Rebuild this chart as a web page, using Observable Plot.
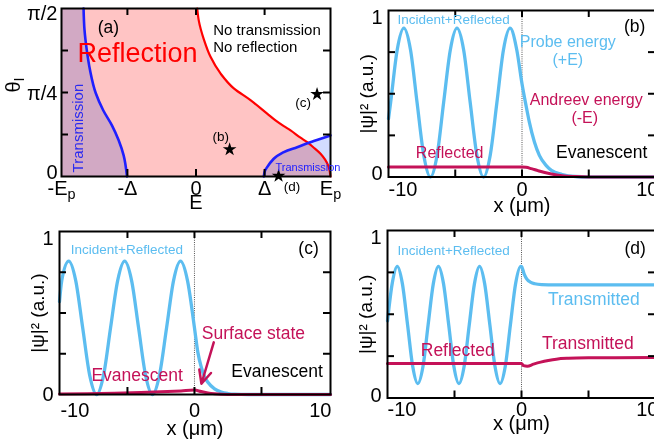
<!DOCTYPE html>
<html><head><meta charset="utf-8">
<script src="https://cdn.jsdelivr.net/npm/d3@7"></script>
<script src="https://cdn.jsdelivr.net/npm/@observablehq/plot@0.6"></script>
<style>
html,body{margin:0;padding:0;background:#fff;}
#fig{position:relative;width:654px;height:445px;overflow:hidden;background:#fff;}
#fig > div{position:absolute;}
#fig svg{overflow:visible;display:block;max-width:none !important;}
</style></head><body><div id="fig"></div>
<script>
// ---------- Panel (a): phase diagram ----------
const DELTA = 0.51;
const aXTicks = [-1, -DELTA, 0, DELTA, 1];
const aXTickLabels = ["-E_p", "-Δ", "0", "Δ", "E_p"];
const aYTicks = [0, 45, 90];
const aYTickLabels = ["0", "π/4", "π/2"];
const aMinorX = [-DELTA, 0, DELTA];
const aMinorY = [22.5, 45, 67.5];
// [E/Ep, theta in degrees]
const aBlueLeft = [[-0.513,0],[-0.538,11.3],[-0.575,19.4],[-0.625,27.4],[-0.690,35.5],[-0.745,44.6],[-0.788,57],[-0.812,67.7],[-0.829,78.5],[-0.836,90]];
const aRed = [[1.0,0],[0.985,5.5],[0.96,9.0],[0.926,12.2],[0.87,15.8],[0.827,18.4],[0.777,20.8],[0.703,24.7],[0.653,27.0],[0.591,30.1],[0.529,33.7],[0.405,40.9],[0.281,47.2],[0.182,55.2],[0.108,64.1],[0.06,73.1],[0.02,83.8],[0.009,90]];
const aBlueRight = [[0.504,0],[0.510,2.5],[0.529,5.0],[0.578,9.5],[0.653,13.1],[0.752,15.7],[0.876,19.0],[1.0,22.0]];
const aStars = [[0.25,14.5],[0.90,44.1],[0.614,0.3]];
const aStarNotes = [{text:"(b)",x:0.184,y:18.8},{text:"(c)",x:0.796,y:37.1},{text:"(d)",x:0.714,y:-7.5}];
const aNoteTag = [{text:"(a)",x:-0.651,y:76.7}];
const aNoteReflection = [{text:"Reflection",x:-0.435,y:61.3}];
const aNoteNo = [{text:"No transmission",x:0.128,y:75.8},{text:"No reflection",x:0.128,y:66.8}];
const aNoteTransV = [{text:"Transmission",x:-0.874,y:2.2}];
const aNoteTransH = [{text:"Transmission",x:0.591,y:3.2}];

// ---------- Panels (b)-(d) shared axes ----------
const xTicks = [-10, 0, 10];
const xTickLabels = ["-10", "0", "10"];
const xMinor = [-5, 0, 5];
const yTicks = [0, 1];
const yTickLabels = ["0", "1"];
const yMinor = [0.25, 0.5, 0.75];

// ---------- Panel (b) ----------
const bIncident = [[-10,0.35],[-9.84,0.447],[-9.35,0.763],[-8.85,0.894],[-8.35,0.763],[-7.86,0.447],[-7.36,0.131],[-6.86,0],[-6.36,0.131],[-5.87,0.447],[-5.37,0.763],[-4.87,0.894],[-4.37,0.763],[-3.88,0.447],[-3.38,0.131],[-2.88,0],[-2.38,0.131],[-1.88,0.447],[-1.39,0.763],[-0.89,0.894],[-0.39,0.763],[0,0.56],[0.3,0.43],[0.55,0.33],[0.93,0.21],[1.3,0.13],[1.8,0.07],[2.2,0.04],[3.0,0.015],[4.0,0.003],[5,0],[10,0]];
const bAndreev = [[-10,0.06],[0,0.06],[0.3,0.058],[0.7,0.05],[1.2,0.038],[1.7,0.027],[2.2,0.018],[3,0.008],[4,0.003],[5,0.0005],[6,0],[10,0]];
const bNotesBlue = [{text:"Probe energy",x:3.43,y:0.78},{text:"(+E)",x:3.43,y:0.67}];
const bNotesRed = [{text:"Andreev energy",x:4.81,y:0.435},{text:"(-E)",x:4.70,y:0.325},{text:"Reflected",x:-5.42,y:0.117}];
const bNotesBlack = [{text:"Evanescent",x:5.97,y:0.115}];
const bTag = [{text:"(b)",x:8.44,y:0.868}];
const bIncNote = [{text:"Incident+Reflected",x:-5.12,y:0.921}];

// ---------- Panel (c) ----------
const cIncident = [[-10.07,0.57],[-9.90,0.699],[-9.38,0.818],[-8.86,0.699],[-8.34,0.409],[-7.82,0.119],[-7.30,0],[-6.78,0.119],[-6.26,0.409],[-5.73,0.699],[-5.21,0.818],[-4.69,0.699],[-4.17,0.409],[-3.65,0.119],[-3.13,0],[-2.61,0.119],[-2.08,0.409],[-1.56,0.699],[-1.04,0.818],[-0.52,0.699],[0,0.41],[0.25,0.26],[0.5,0.17],[0.75,0.11],[1.0,0.075],[1.5,0.035],[2.0,0.015],[2.5,0.006],[3.0,0.002],[4.0,0],[10.15,0]];
const cAndreev = [[-10.07,0.003],[-8,0.005],[-6,0.008],[-4,0.012],[-2,0.018],[-1,0.022],[0,0.027],[0.5,0.018],[1,0.01],[1.5,0.005],[2,0.002],[3,0],[10.15,0]];
const cArrow = [{x1:1.44,y1:0.32,x2:0.52,y2:0.066}];
const cNotesRed = [{text:"Surface state",x:4.40,y:0.342},{text:"Evanescent",x:-4.28,y:0.08}];
const cNotesBlack = [{text:"Evanescent",x:6.16,y:0.106}];
const cTag = [{text:"(c)",x:8.51,y:0.865}];
const cIncNote = [{text:"Incident+Reflected",x:-5.04,y:0.863}];

// ---------- Panel (d) ----------
const dIncident = [[-10,0.46],[-9.65,0.683],[-9.27,0.786],[-8.89,0.683],[-8.5,0.436],[-8.12,0.189],[-7.74,0.086],[-7.35,0.189],[-6.97,0.436],[-6.58,0.683],[-6.2,0.786],[-5.82,0.683],[-5.43,0.436],[-5.05,0.189],[-4.67,0.086],[-4.28,0.189],[-3.9,0.436],[-3.51,0.683],[-3.13,0.786],[-2.75,0.683],[-2.36,0.436],[-1.98,0.189],[-1.6,0.086],[-1.21,0.189],[-0.83,0.436],[-0.44,0.683],[-0.06,0.786],[0,0.785],[0.2,0.74],[0.4,0.71],[0.7,0.69],[1.0,0.682],[1.5,0.677],[2.5,0.675],[10,0.675]];
const dAndreev = [[-10,0.206],[0,0.206],[0.15,0.193],[0.43,0.19],[0.9,0.202],[1.43,0.214],[2.0,0.224],[2.6,0.232],[3.5,0.237],[5.1,0.24],[7,0.241],[10,0.242]];
const dNotesBlue = [{text:"Transmitted",x:5.40,y:0.558}];
const dNotesRed = [{text:"Transmitted",x:4.95,y:0.294},{text:"Reflected",x:-4.76,y:0.248}];
const dTag = [{text:"(d)",x:8.48,y:0.861}];
const dIncNote = [{text:"Incident+Reflected",x:-5.06,y:0.855}];

// ---------- styles ----------
const FONT = "'Liberation Sans', Arial, Helvetica, sans-serif";
const LB = "#5cbdf0", CR = "#c41258", BL = "#1f1fff", RD = "#ff0000";
const PINK = "#ffc4c4", TBLUE = "#d2dcff";
const fig = document.getElementById("fig");

function frameMarks(xs, ys, fw, fh) {
  const L = 7;
  return [
    Plot.tickX(xs, {x: d => d, insetTop: fh - L, stroke: "black", strokeWidth: 2}),
    Plot.tickX(xs, {x: d => d, insetBottom: fh - L, stroke: "black", strokeWidth: 2}),
    Plot.tickY(ys, {y: d => d, insetRight: fw - L, stroke: "black", strokeWidth: 2}),
    Plot.tickY(ys, {y: d => d, insetLeft: fw - L, stroke: "black", strokeWidth: 2}),
    Plot.frame({stroke: "black", strokeWidth: 2})
  ];
}
function xLabelMarks(vals, labels, dy, anchors, dxs) {
  return vals.map((v, i) => Plot.text([{v, label: labels[i]}], {
    x: "v", text: "label", frameAnchor: "bottom", dy, dx: dxs ? dxs[i] : 0,
    textAnchor: anchors ? anchors[i] : "middle", lineAnchor: "middle", fontSize: 20, fill: "black"}));
}
function yLabelMarks(vals, labels, dx, dys) {
  return vals.map((v, i) => Plot.text([{v, label: labels[i]}], {
    y: "v", text: "label", frameAnchor: "left", dx, dy: dys[i],
    textAnchor: "end", lineAnchor: "middle", fontSize: 20, fill: "black"}));
}
function notes(data, opts) {
  return Plot.text(data, {x: "x", y: "y", text: "text", lineAnchor: "bottom", ...opts});
}
function subscripts(svg) {
  svg.querySelectorAll("text").forEach(el => {
    const targets = el.querySelector("tspan") ? Array.from(el.querySelectorAll("tspan")) : [el];
    for (const t of targets) {
      const m = t.textContent.match(/^(.*)_(.+)$/);
      if (!m) continue;
      t.textContent = m[1];
      const sub = document.createElementNS("http://www.w3.org/2000/svg", "tspan");
      sub.setAttribute("dy", "0.28em");
      sub.setAttribute("font-size", "72%");
      sub.textContent = m[2];
      t.appendChild(sub);
    }
  });
}
function place(svg, left, top, w, h) {
  subscripts(svg);
  svg.style.maxWidth = "none";
  svg.style.width = w + "px";
  svg.style.height = h + "px";
  const div = document.createElement("div");
  div.style.left = left + "px"; div.style.top = top + "px";
  div.style.width = w + "px"; div.style.height = h + "px";
  div.appendChild(svg);
  fig.appendChild(div);
}
const P = d => d[0], Q = d => d[1];

// ---------- build (a) ----------
{
  const w = 340, h = 220, mL = 61, mR = 10, mT = 8, mB = 44;
  const fw = w - mL - mR, fh = h - mT - mB;
  const svg = Plot.plot({
    width: w, height: h, marginLeft: mL, marginRight: mR, marginTop: mT, marginBottom: mB,
    x: {domain: [-1, 1], axis: null}, y: {domain: [0, 90], axis: null},
    style: {fontFamily: FONT, background: "transparent", overflow: "visible"},
    marks: [
      Plot.areaX(aRed, {y: Q, x1: -1, x2: P, curve: "monotone-y", fill: PINK}),
      Plot.areaX(aBlueLeft, {y: Q, x1: -1, x2: P, curve: "monotone-y", fill: TBLUE, mixBlendMode: "multiply"}),
      Plot.areaY(aBlueRight, {x: P, y1: 0, y2: Q, curve: "monotone-x", fill: TBLUE, mixBlendMode: "multiply"}),
      Plot.line(aRed, {x: P, y: Q, curve: "monotone-y", stroke: RD, strokeWidth: 2.2}),
      Plot.line(aBlueLeft, {x: P, y: Q, curve: "monotone-y", stroke: BL, strokeWidth: 2.6}),
      Plot.line(aBlueRight, {x: P, y: Q, curve: "monotone-x", stroke: BL, strokeWidth: 2.6}),
      ...frameMarks(aMinorX, aMinorY, fw, fh),
      Plot.dot(aStars, {x: P, y: Q, symbol: "star", r: 4.3, fill: "black", stroke: "none"}),
      notes(aStarNotes, {fontSize: 13.5, fill: "black"}),
      notes(aNoteTag, {fontSize: 17.5, fill: "black"}),
      notes(aNoteReflection, {fontSize: 27, fill: RD}),
      notes(aNoteNo, {fontSize: 15, fill: "black", textAnchor: "start"}),
      Plot.text(aNoteTransV, {x: "x", y: "y", text: "text", rotate: -90, textAnchor: "start", lineAnchor: "middle", fontSize: 15, fill: "#2b2bf0"}),
      notes(aNoteTransH, {fontSize: 11, fill: "#2020ff", textAnchor: "start"}),
      ...xLabelMarks(aXTicks, aXTickLabels, 12),
      ...yLabelMarks(aYTicks, aYTickLabels, -4, [-4, 1, 5]),
      Plot.text(["E"], {frameAnchor: "bottom", dy: 26, text: d => d, lineAnchor: "middle", fontSize: 20, fill: "black"}),
      Plot.text(["θ_I"], {frameAnchor: "left", dx: -48, text: d => d, rotate: -90, lineAnchor: "middle", fontSize: 20, fill: "black"})
    ]
  });
  place(svg, 0, 0, w, h);
}

// ---------- generic wave panel ----------
function wavePanel({left, top, w, h, mL, mR, mT, mB, xDomain, inc, andr, extra, tickDy, labelDy, yDys}) {
  const fw = w - mL - mR, fh = h - mT - mB;
  const svg = Plot.plot({
    width: w, height: h, marginLeft: mL, marginRight: mR, marginTop: mT, marginBottom: mB,
    x: {domain: xDomain, axis: null}, y: {domain: [0, 1], axis: null},
    style: {fontFamily: FONT, background: "transparent", overflow: "visible"},
    marks: [
      Plot.ruleX([0], {stroke: "#555", strokeWidth: 1, strokeDasharray: "1,1.2"}),
      Plot.line(inc, {x: P, y: Q, curve: "monotone-x", stroke: LB, strokeWidth: 3.3}),
      Plot.line(andr, {x: P, y: Q, curve: "monotone-x", stroke: CR, strokeWidth: 3}),
      ...frameMarks(xMinor, yMinor, fw, fh),
      ...extra,
      ...xLabelMarks(xTicks, xTickLabels, tickDy, ["start", "middle", "end"], [0, 0, 3]),
      ...yLabelMarks(yTicks, yTickLabels, -6, yDys),
      Plot.text(["x (μm)"], {frameAnchor: "bottom", dy: labelDy, text: d => d, lineAnchor: "middle", fontSize: 20, fill: "black"}),
      Plot.text([{v: 0.5, label: "|ψ|² (a.u.)"}], {y: "v", frameAnchor: "left", dx: -22, text: "label", rotate: -90, textAnchor: "middle", lineAnchor: "middle", fontSize: 19, fill: "black"})
    ]
  });
  place(svg, left, top, w, h);
}

wavePanel({left: 330, top: 0, w: 340, h: 220, mL: 58, mR: 15, mT: 10, mB: 43.5, xDomain: [-10, 10],
  inc: bIncident, andr: bAndreev, tickDy: 13, labelDy: 29, yDys: [-3.5, 7],
  extra: [
    notes(bIncNote, {fontSize: 13.5, fill: LB}),
    notes(bNotesBlue, {fontSize: 16, fill: LB}),
    notes(bNotesRed, {fontSize: 16, fill: CR}),
    notes(bNotesBlack, {fontSize: 17.5, fill: "black"}),
    notes(bTag, {fontSize: 17.5, fill: "black"})
  ]});

wavePanel({left: 0, top: 220, w: 340, h: 225, mL: 59, mR: 10, mT: 11, mB: 51, xDomain: [-10.07, 10.15],
  inc: cIncident, andr: cAndreev, tickDy: 16.5, labelDy: 34, yDys: [0, 7],
  extra: [
    Plot.arrow(cArrow, {x1: "x1", y1: "y1", x2: "x2", y2: "y2", stroke: CR, strokeWidth: 2.5, headLength: 10, headAngle: 50}),
    notes(cIncNote, {fontSize: 13.5, fill: LB}),
    notes(cNotesRed, {fontSize: 17.5, fill: CR}),
    notes(cNotesBlack, {fontSize: 17.5, fill: "black"}),
    notes(cTag, {fontSize: 17.5, fill: "black"})
  ]});

wavePanel({left: 330, top: 220, w: 340, h: 225, mL: 57, mR: 15, mT: 10, mB: 47.5, xDomain: [-10, 10],
  inc: dIncident, andr: dAndreev, tickDy: 12, labelDy: 25.5, yDys: [-2.5, 6.7],
  extra: [
    notes(dIncNote, {fontSize: 13.5, fill: LB}),
    notes(dNotesBlue, {fontSize: 17.5, fill: LB}),
    notes(dNotesRed, {fontSize: 17.5, fill: CR}),
    notes(dTag, {fontSize: 17.5, fill: "black"})
  ]});
</script>
</body></html>
